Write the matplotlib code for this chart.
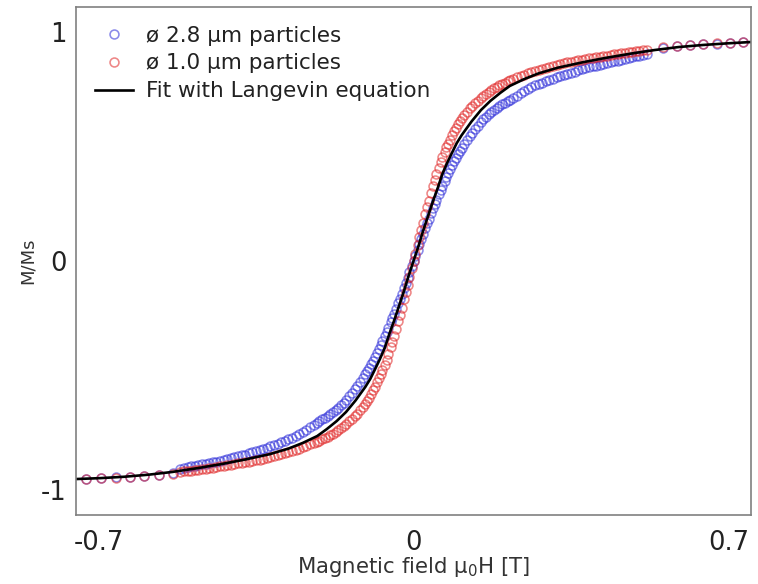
import numpy as np
import matplotlib
matplotlib.use("Agg")
import matplotlib.pyplot as plt

# ---- measured field sweep (mT) ----
# coarse steps near saturation
field_low_mT = [-728, -694, -661, -630, -599, -566, -534]
field_high_mT = [554, 586, 614, 643, 674, 703, 732]
# fine steps through the transition
field_neg_mT = [
    -518, -510, -502, -494, -486, -478, -470, -462, -454, -446, -438, -430, -422, -414,
    -406, -398, -390, -382, -374, -366, -358, -350, -342, -334, -326, -318, -310, -302,
    -294, -286, -278, -270, -262, -254, -246, -238, -230, -222, -214, -209, -203, -197,
    -191, -185, -179, -173, -167, -161, -155, -149, -143, -137, -131, -125, -119, -113,
    -107, -103, -99, -94, -90, -86, -81, -77, -73, -69, -64, -60, -56, -51, -47, -43,
    -39, -34, -30, -26, -21, -17, -13, -9, -4, 0,
]
field_pos_mT = [
    4, 9, 13, 17, 21, 26, 30, 34, 39, 43, 47, 51, 56, 60, 64, 69, 73, 77, 81, 86, 90,
    94, 99, 103, 107, 113, 119, 125, 131, 137, 143, 149, 155, 161, 167, 173, 179, 185,
    191, 197, 203, 209, 214, 222, 230, 238, 246, 254, 262, 270, 278, 286, 294, 302, 310,
    318, 326, 334, 342, 350, 358, 366, 374, 382, 390, 398, 406, 414, 422, 430, 438, 446,
    454, 462, 470, 478, 486, 494, 502, 510, 518,
]

# ---- M/Ms, 2.8 um particles ----
m28_low = [-0.951, -0.949, -0.946, -0.943, -0.939, -0.934, -0.928]
m28_high = [0.933, 0.938, 0.943, 0.947, 0.950, 0.953, 0.956]
m28_neg = [
    -0.907, -0.904, -0.901, -0.898, -0.895, -0.892, -0.889, -0.886, -0.883, -0.880,
    -0.877, -0.874, -0.870, -0.866, -0.862, -0.858, -0.854, -0.850, -0.846, -0.841,
    -0.836, -0.831, -0.826, -0.821, -0.816, -0.810, -0.804, -0.798, -0.792, -0.786,
    -0.779, -0.772, -0.764, -0.755, -0.746, -0.737, -0.727, -0.717, -0.707, -0.700,
    -0.692, -0.685, -0.677, -0.669, -0.661, -0.652, -0.642, -0.631, -0.619, -0.607,
    -0.592, -0.577, -0.561, -0.545, -0.528, -0.512, -0.495, -0.482, -0.469, -0.451,
    -0.436, -0.421, -0.400, -0.383, -0.367, -0.350, -0.329, -0.310, -0.291, -0.268,
    -0.249, -0.231, -0.210, -0.185, -0.164, -0.144, -0.118, -0.095, -0.073, -0.050,
    -0.022, 0.000,
]
m28_pos = [
    0.022, 0.050, 0.073, 0.095, 0.118, 0.144, 0.164, 0.185, 0.210, 0.231, 0.249, 0.268,
    0.291, 0.310, 0.329, 0.350, 0.367, 0.383, 0.400, 0.421, 0.436, 0.451, 0.469, 0.482,
    0.495, 0.512, 0.528, 0.545, 0.561, 0.577, 0.592, 0.607, 0.619, 0.631, 0.642, 0.652,
    0.661, 0.669, 0.677, 0.685, 0.692, 0.699, 0.705, 0.714, 0.723, 0.732, 0.741, 0.750,
    0.759, 0.767, 0.773, 0.779, 0.785, 0.791, 0.797, 0.803, 0.808, 0.813, 0.818, 0.823,
    0.828, 0.833, 0.838, 0.842, 0.846, 0.850, 0.854, 0.858, 0.862, 0.866, 0.869, 0.873,
    0.876, 0.879, 0.883, 0.886, 0.890, 0.894, 0.897, 0.901, 0.905,
]

# ---- M/Ms, 1.0 um particles ----
m10_low = [-0.952, -0.950, -0.947, -0.944, -0.940, -0.936, -0.931]
m10_high = [0.935, 0.940, 0.944, 0.948, 0.951, 0.954, 0.957]
m10_neg = [
    -0.922, -0.920, -0.918, -0.916, -0.914, -0.912, -0.909, -0.907, -0.905, -0.903,
    -0.900, -0.898, -0.896, -0.893, -0.890, -0.888, -0.885, -0.882, -0.880, -0.877,
    -0.874, -0.871, -0.868, -0.865, -0.862, -0.858, -0.854, -0.849, -0.845, -0.840,
    -0.836, -0.831, -0.826, -0.820, -0.814, -0.808, -0.802, -0.796, -0.790, -0.785,
    -0.779, -0.774, -0.768, -0.761, -0.754, -0.747, -0.739, -0.730, -0.721, -0.711,
    -0.701, -0.690, -0.679, -0.667, -0.653, -0.639, -0.625, -0.612, -0.599, -0.581,
    -0.566, -0.551, -0.530, -0.513, -0.496, -0.477, -0.453, -0.431, -0.408, -0.378,
    -0.352, -0.326, -0.298, -0.263, -0.234, -0.204, -0.167, -0.135, -0.103, -0.071,
    -0.032, 0.000,
]
m10_pos = [
    0.032, 0.071, 0.103, 0.135, 0.167, 0.204, 0.234, 0.263, 0.298, 0.326, 0.352, 0.378,
    0.408, 0.431, 0.453, 0.477, 0.496, 0.513, 0.530, 0.551, 0.566, 0.581, 0.599, 0.612,
    0.625, 0.639, 0.653, 0.667, 0.679, 0.690, 0.701, 0.711, 0.721, 0.730, 0.739, 0.747,
    0.754, 0.761, 0.768, 0.774, 0.779, 0.785, 0.790, 0.796, 0.802, 0.808, 0.814, 0.820,
    0.826, 0.831, 0.836, 0.840, 0.845, 0.849, 0.854, 0.858, 0.862, 0.865, 0.868, 0.871,
    0.874, 0.877, 0.880, 0.882, 0.885, 0.888, 0.890, 0.893, 0.896, 0.898, 0.900, 0.903,
    0.905, 0.907, 0.909, 0.912, 0.914, 0.916, 0.918, 0.920, 0.922,
]

# ---- Langevin fit ----
fit_field_mT = [
    -750, -696, -643, -589, -536, -482, -428, -375, -321, -278, -246, -214, -193, -171,
    -150, -129, -107, -96, -86, -75, -64, -54, -43, -32, -21, -11, 0,
    11, 21, 32, 43, 54, 64, 75, 86, 96, 107, 129, 150, 171, 193, 214, 246, 278, 321, 375,
    428, 482, 536, 589, 643, 696, 750,
]
fit_m = [
    -0.953, -0.949, -0.943, -0.934, -0.922, -0.906, -0.888, -0.868, -0.845, -0.820, -0.795,
    -0.765, -0.735, -0.700, -0.660, -0.610, -0.550, -0.515, -0.475, -0.430, -0.380, -0.320,
    -0.260, -0.195, -0.130, -0.065, 0.000,
    0.065, 0.130, 0.195, 0.260, 0.320, 0.380, 0.430, 0.475, 0.515, 0.550, 0.610, 0.660,
    0.700, 0.735, 0.765, 0.795, 0.820, 0.845, 0.868, 0.888, 0.906, 0.922, 0.935, 0.944,
    0.951, 0.957,
]

labels = ["ø 2.8 µm particles", "ø 1.0 µm particles", "Fit with Langevin equation"]
x_ticks = [-0.7, 0, 0.7]
x_tick_labels = ["-0.7", "0", "0.7"]
y_ticks = [-1, 0, 1]
y_tick_labels = ["-1", "0", "1"]

field = np.array(field_low_mT + field_neg_mT + field_pos_mT + field_high_mT) / 1000.0
m_28 = np.array(m28_low + m28_neg + m28_pos + m28_high)
m_10 = np.array(m10_low + m10_neg + m10_pos + m10_high)

plt.rcParams["font.family"] = ["DejaVu Sans"]

fig = plt.figure(figsize=(7.58, 5.84), dpi=100)
ax = fig.add_axes([0.1003, 0.1182, 0.8905, 0.8698])

marker_style = dict(linestyle="none", marker="o", markersize=6.4,
                    markerfacecolor="none", markeredgewidth=1.15, alpha=0.55)
ax.plot(field, m_28, markeredgecolor="#2a2ad8", label=labels[0], **marker_style)
ax.plot(field, m_10, markeredgecolor="#e02424", label=labels[1], **marker_style)
ax.plot(np.array(fit_field_mT) / 1000.0, fit_m, color="black", linewidth=1.9,
        label=labels[2])

ax.set_xlim(-0.75, 0.75)
ax.set_ylim(-1.11, 1.11)
ax.set_xticks(x_ticks)
ax.set_xticklabels(x_tick_labels)
ax.set_yticks(y_ticks)
ax.set_yticklabels(y_tick_labels)
ax.tick_params(axis="both", length=0, labelsize=18.5, colors="#222222")
ax.tick_params(axis="x", pad=11)
ax.tick_params(axis="y", pad=7)

for s in ax.spines.values():
    s.set_color("#808080")
    s.set_linewidth(1.2)

ax.set_xlabel("Magnetic field µ$_0$H [T]", fontsize=15.3, color="#333333", labelpad=-1)
ax.set_ylabel("M/Ms", fontsize=13, color="#333333", labelpad=3)

leg = ax.legend(loc="upper left", bbox_to_anchor=(0.022, 0.972), frameon=False,
                fontsize=15.5, handlelength=1.75, handletextpad=0.6,
                labelspacing=0.36, borderaxespad=0.0, borderpad=0.2, numpoints=1)
for t in leg.get_texts():
    t.set_color("#222222")

fig.savefig("out.png", dpi=100)
